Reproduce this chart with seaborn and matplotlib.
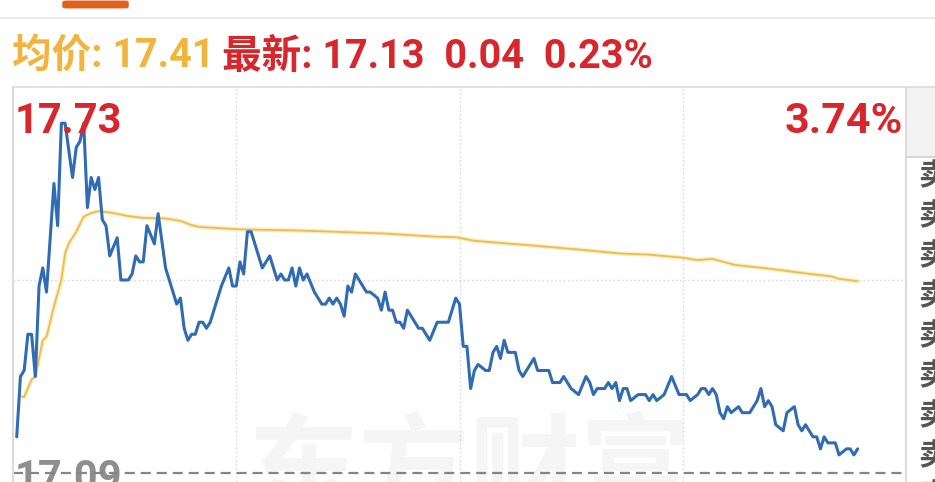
import matplotlib
matplotlib.use("Agg")
import matplotlib.pyplot as plt
from matplotlib.lines import Line2D
from matplotlib.patches import Rectangle, FancyBboxPatch
import seaborn as sns
import pandas as pd

sns.set_theme(style="white")
plt.rcParams["lines.scale_dashes"] = False

# intraday price (minutes after open, price)
price_min = [1, 2, 3, 4, 5, 6, 7, 8, 9, 11, 12, 13, 14, 16, 17, 18, 19, 20, 21, 22,
             23, 24, 25, 26, 28, 29, 31, 32, 33, 34, 35, 36, 38, 39, 41, 44, 45, 46, 47, 48,
             49, 50, 51, 52, 53, 55, 56, 58, 59, 60, 61, 62, 63, 64, 65, 67, 68, 69, 71, 72,
             73, 74, 75, 76, 77, 78, 79, 81, 83, 84, 85, 86, 87, 88, 89, 90, 91, 92, 94, 95,
             96, 98, 99, 100, 101, 102, 103, 104, 105, 106, 108, 109, 110, 112, 114, 117, 119, 120, 121, 122,
             123, 124, 125, 127, 128, 129, 130, 131, 132, 133, 135, 136, 137, 140, 141, 144, 145, 147, 148, 150,
             152, 154, 155, 156, 157, 159, 160, 161, 162, 163, 164, 165, 166, 168, 170, 171, 172, 173, 175, 177,
             179, 181, 182, 184, 185, 186, 187, 188, 189, 190, 191, 192, 193, 195, 196, 198, 200, 201, 202, 203,
             204, 205, 207, 208, 210, 211, 212, 213, 215, 216, 217, 218, 219, 220, 221, 222, 224, 225, 226, 227]
price_val = [17.15, 17.25, 17.26, 17.32, 17.32, 17.25, 17.40, 17.43, 17.39, 17.57, 17.50, 17.67, 17.67, 17.58, 17.63, 17.64, 17.67, 17.53, 17.58, 17.56,
             17.58, 17.51, 17.50, 17.45, 17.48, 17.41, 17.41, 17.42, 17.45, 17.44, 17.44, 17.50, 17.47, 17.52, 17.43, 17.37, 17.38, 17.33, 17.31, 17.32,
             17.32, 17.34, 17.34, 17.33, 17.34, 17.38, 17.40, 17.43, 17.40, 17.40, 17.44, 17.42, 17.49, 17.49, 17.47, 17.43, 17.44, 17.45, 17.41, 17.42,
             17.41, 17.41, 17.43, 17.40, 17.43, 17.41, 17.42, 17.39, 17.37, 17.37, 17.38, 17.37, 17.38, 17.37, 17.35, 17.40, 17.39, 17.42, 17.40, 17.39,
             17.39, 17.38, 17.36, 17.39, 17.36, 17.36, 17.34, 17.34, 17.33, 17.36, 17.34, 17.33, 17.33, 17.31, 17.34, 17.34, 17.38, 17.37, 17.30, 17.30,
             17.23, 17.26, 17.27, 17.26, 17.26, 17.29, 17.30, 17.28, 17.31, 17.29, 17.29, 17.26, 17.25, 17.28, 17.26, 17.26, 17.24, 17.24, 17.25, 17.23,
             17.22, 17.25, 17.24, 17.22, 17.23, 17.23, 17.24, 17.23, 17.24, 17.21, 17.23, 17.23, 17.21, 17.22, 17.22, 17.21, 17.22, 17.21, 17.22, 17.25,
             17.22, 17.22, 17.21, 17.22, 17.23, 17.23, 17.22, 17.23, 17.22, 17.19, 17.18, 17.20, 17.19, 17.20, 17.19, 17.19, 17.21, 17.23, 17.20, 17.21,
             17.20, 17.17, 17.16, 17.19, 17.20, 17.17, 17.16, 17.17, 17.15, 17.15, 17.13, 17.15, 17.14, 17.14, 17.14, 17.12, 17.13, 17.13, 17.12, 17.13]

# average price line
avg_min = [2, 3, 5, 6, 8, 9, 11, 13, 14, 15, 17, 19, 21, 23, 26, 31, 35, 41, 45, 48,
           50, 61, 77, 100, 113, 119, 124, 140, 153, 163, 171, 180, 184, 188, 194, 203, 213, 220, 222, 227]
avg_val = [17.217, 17.216, 17.245, 17.25, 17.31, 17.316, 17.366, 17.41, 17.454, 17.471, 17.49, 17.515, 17.521, 17.524, 17.522, 17.516, 17.513, 17.512, 17.508, 17.501,
           17.498, 17.494, 17.492, 17.487, 17.482, 17.481, 17.475, 17.467, 17.46, 17.454, 17.452, 17.447, 17.443, 17.445, 17.435, 17.429, 17.421, 17.416, 17.412, 17.408]

prev_close = 17.09
top_price = 17.73
top_pct = "3.74%"
avg_now = "17.41"
last_price = "17.13"
change = "0.04"
change_pct = "0.23%"
time_grid = [60, 120, 180]
mid_price = 17.41

df_price = pd.DataFrame({"min": price_min, "price": price_val})
df_avg = pd.DataFrame({"min": avg_min, "avg": avg_val})

W, H = 935, 482
fig = plt.figure(figsize=(W / 100, H / 100), dpi=100)
fig.patch.set_facecolor("white")


def fx(x):
    return x / W


def fy(y):
    return 1 - y / H


NUM = ["Roboto", "Noto Sans CJK SC", "DejaVu Sans"]
CJK = ["Noto Sans CJK SC", "DejaVu Sans"]

ax = fig.add_axes([fx(13), 0, (906 - 13) / W, (H - 87) / H])
ax.set_facecolor("none")

# watermark
ax.text(fx(470), fy(418), "东方财富", transform=fig.transFigure, family=CJK,
        fontsize=80, weight="bold", color="#f5f5f5", ha="center", va="top", zorder=0.5)

for m in time_grid:
    ax.axvline(m, color="#d9d9d9", lw=1, ls=(0, (1.2, 1.8)), zorder=1)
ax.axhline(mid_price, color="#d9d9d9", lw=1, ls=(0, (1.2, 1.8)), zorder=1)

ax.text(fx(15), fy(490), f"{prev_close:.2f}", transform=fig.transFigure, family=NUM,
        fontsize=30, weight="bold", color="#8e8e8e", ha="left", va="baseline", zorder=1.5)
ax.axhline(prev_close, color="#858585", lw=1.6, ls=(0, (7.2, 4.3)), zorder=2)

sns.lineplot(data=df_avg, x="min", y="avg", ax=ax, color="#fcecc4", lw=3, zorder=3)
sns.lineplot(data=df_avg, x="min", y="avg", ax=ax, color="#efbd4a", lw=1.3, zorder=3.5)
sns.lineplot(data=df_price, x="min", y="price", ax=ax, color="#2f6cb3", lw=2.2, zorder=4)

ax.set_xlim(0, 240)
ax.set_ylim(prev_close - 9 * (top_price - prev_close) / 386, top_price)
ax.set_xticks([])
ax.set_yticks([])
ax.set_xlabel("")
ax.set_ylabel("")
for s in ["top", "bottom", "right"]:
    ax.spines[s].set_visible(False)
ax.spines["left"].set_color("#dcdcdc")
ax.spines["left"].set_linewidth(1.6)

# frame lines and side panel
fig.add_artist(Line2D([fx(906), fx(906)], [fy(87), 0], color="#d6d6d6", lw=1.2))
fig.add_artist(Rectangle((fx(906), fy(157)), fx(935 - 906), (157 - 87) / H,
                         transform=fig.transFigure, facecolor="#f3f3f3", edgecolor="none"))
fig.add_artist(Line2D([fx(906), 1], [fy(157), fy(157)], color="#d0d0d0", lw=1.2))
fig.add_artist(Line2D([fx(13), 1], [fy(87), fy(87)], color="#dcdcdc", lw=1.2))
fig.add_artist(Line2D([0, 1], [fy(18), fy(18)], color="#e6e6e6", lw=1.2))
fig.add_artist(FancyBboxPatch((fx(66), fy(6.5)), fx(59), 4 / H, transform=fig.transFigure,
                              boxstyle="round,pad=0.004,rounding_size=0.004",
                              facecolor="#e2611c", edgecolor="none"))

for k in range(9):
    fig.text(fx(918), fy(176 + 40 * k), "卖", family=CJK, fontsize=22, weight="bold",
             color="#555555", ha="left", va="center")

# header
fig.text(fx(12), fy(68), f"均价: {avg_now}", family=NUM, fontsize=28.5, weight="bold",
         color="#f2b43c", ha="left", va="baseline")
fig.text(fx(222), fy(68), f"最新: {last_price}  {change}  {change_pct}", family=NUM,
         fontsize=28.5, weight="bold", color="#d8262c", ha="left", va="baseline")

fig.text(fx(15), fy(133), f"{top_price:.2f}", family=NUM, fontsize=30, weight="bold",
         color="#d8262c", ha="left", va="baseline")
fig.text(fx(903), fy(133), top_pct, family=NUM, fontsize=31, weight="bold",
         color="#d8262c", ha="right", va="baseline")

fig.savefig("out.png", dpi=100)
